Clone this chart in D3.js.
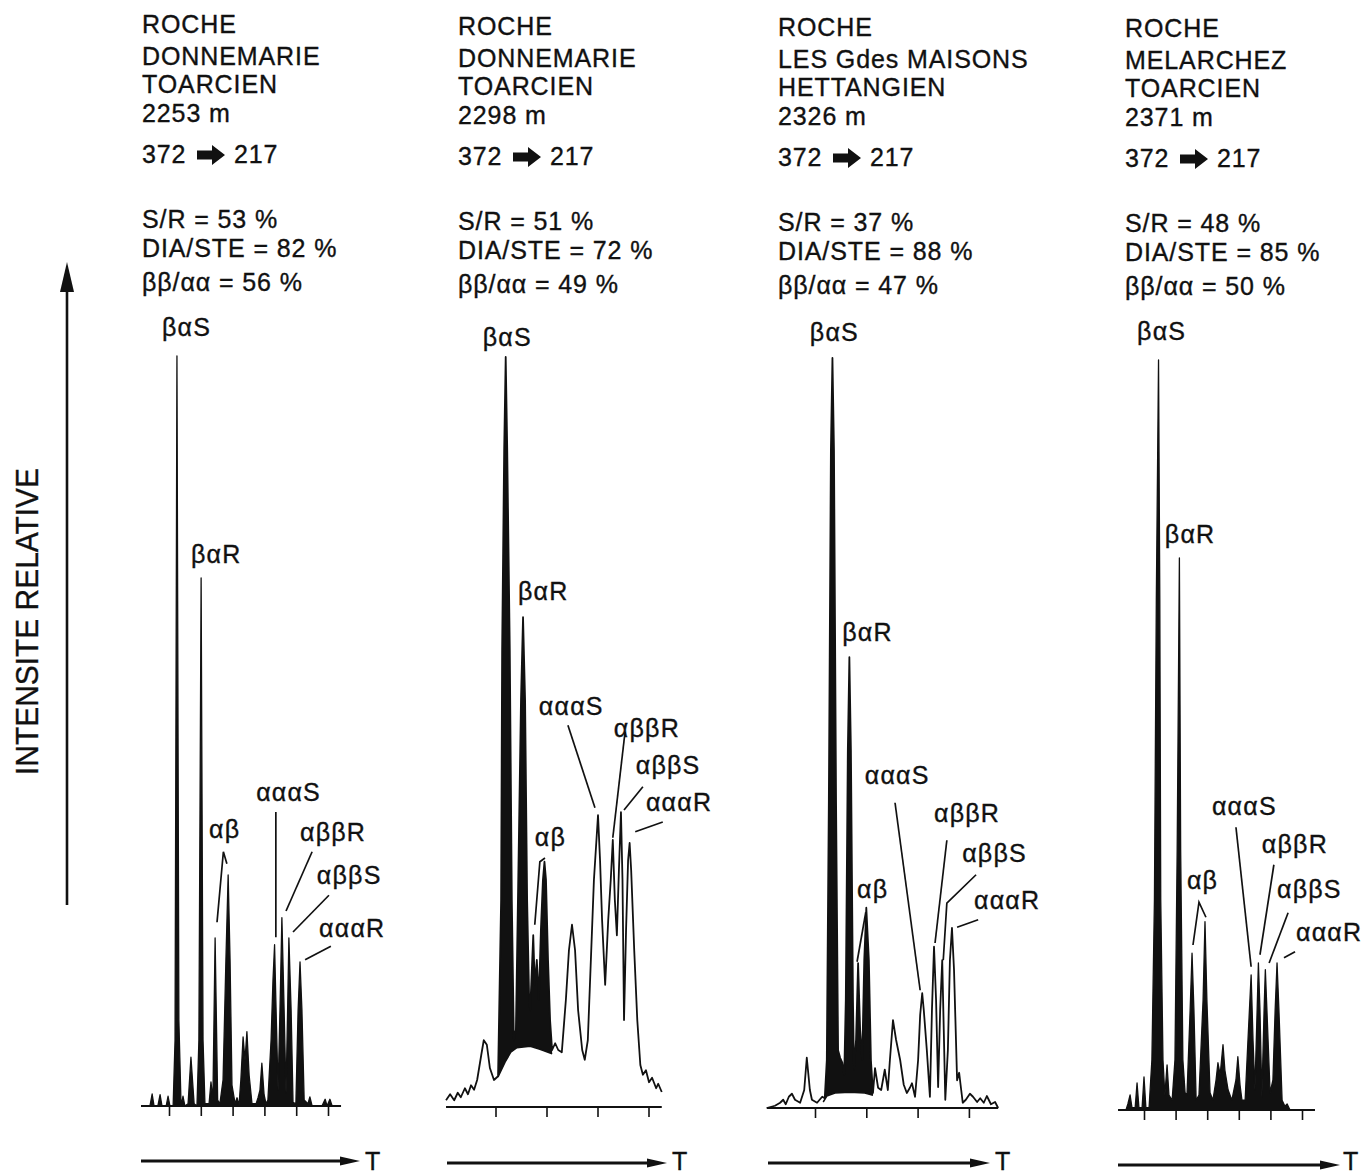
<!DOCTYPE html>
<html><head><meta charset="utf-8">
<script src="https://cdn.jsdelivr.net/npm/d3@7/dist/d3.min.js"></script>
<style>
body{margin:0;background:#fff}
text{font-family:"Liberation Sans",Arial,Helvetica,sans-serif;fill:#111;stroke:#111;stroke-width:0.35px}
</style>
</head><body>
<svg id="chart" width="1366" height="1174"></svg>
<script>
// ---------------- DATA ----------------
const rockTitle = "ROCHE";
const sites = ["DONNEMARIE", "DONNEMARIE", "LES Gdes MAISONS", "MELARCHEZ"];
const stages = ["TOARCIEN", "TOARCIEN", "HETTANGIEN", "TOARCIEN"];
const depths = [2253, 2298, 2326, 2371];
const transitionFrom = "372";
const transitionTo = "217";
const ratioSR = [53, 51, 37, 48];
const ratioDiaSte = [82, 72, 88, 85];
const ratioBbAa = [56, 49, 47, 50];
const peakNames = ["βαS", "βαR", "αβ", "αααS", "αββR", "αββS", "αααR"];
const yAxisTitle = "INTENSITE RELATIVE";
const xAxisTitle = "T";

// traces: [retention (tick units), relative intensity (% of βαS)]
const trace1 = [[-0.88,0],[-0.60,0],[-0.53,1.6],[-0.47,0],[-0.35,0],[-0.28,1.5],[-0.22,0],[-0.09,0],[-0.03,1.3],[0.03,0],[0.13,0],[0.19,8.8],[0.25,100],[0.31,11.5],[0.38,0],[0.44,1.3],[0.50,0],[0.60,0.3],[0.69,6.5],[0.79,0.3],[0.88,0],[0.94,8.8],[1.01,70.4],[1.07,8.8],[1.13,0.3],[1.26,0.3],[1.32,3.2],[1.38,0.8],[1.45,22.4],[1.53,0.8],[1.60,0.3],[1.70,3.5],[1.79,19.5],[1.86,30.8],[1.92,19.5],[1.98,2.8],[2.08,0.3],[2.14,1.1],[2.20,0],[2.26,3.5],[2.33,9.2],[2.39,6.1],[2.45,9.9],[2.52,4.1],[2.61,0.3],[2.74,0.3],[2.80,1.1],[2.86,2.1],[2.92,5.7],[2.99,1.5],[3.05,0.3],[3.11,0.8],[3.21,8.8],[3.27,16.8],[3.32,21.5],[3.36,14.1],[3.43,2.1],[3.49,12.8],[3.55,25.1],[3.62,12.8],[3.68,1.7],[3.73,12.8],[3.77,22.4],[3.84,12.8],[3.90,0.5],[3.99,0.3],[4.06,12.8],[4.12,19.2],[4.18,12.8],[4.25,0.8],[4.37,0.3],[4.43,1.2],[4.50,0],[4.81,0],[4.91,0.9],[4.97,0],[5.06,0.9],[5.13,0],[5.41,0]];

const trace2 = [[-0.97,0.9],[-0.89,1.7],[-0.81,0.9],[-0.74,1.9],[-0.68,1.3],[-0.60,2.5],[-0.54,1.7],[-0.48,2.9],[-0.42,2.3],[-0.36,3.6],[-0.28,6.9],[-0.23,8.9],[-0.17,8.3],[-0.11,5.2],[-0.03,3.6],[0.05,4.1],[0.11,27.6],[0.13,60.9],[0.17,87.6],[0.20,100],[0.23,87.6],[0.28,60.9],[0.32,27.6],[0.36,8.9],[0.40,10.3],[0.44,27.6],[0.50,54.3],[0.54,65.3],[0.58,54.3],[0.62,27.6],[0.66,14.3],[0.68,12.9],[0.74,22.9],[0.77,16.3],[0.81,19.6],[0.85,14.3],[0.89,23.6],[0.93,30.3],[0.96,32.7],[0.99,30.3],[1.03,19.6],[1.07,11.6],[1.11,7.6],[1.17,8.5],[1.23,7.6],[1.30,7.3],[1.38,14.3],[1.44,20.9],[1.50,24.3],[1.56,20.9],[1.62,12.9],[1.70,7.6],[1.75,6.3],[1.81,8.9],[1.87,19.6],[1.93,30.3],[2.01,38.9],[2.05,32.9],[2.09,24.9],[2.15,16.3],[2.21,24.9],[2.26,30.3],[2.30,35.6],[2.34,27.6],[2.38,22.9],[2.42,31.6],[2.46,39.3],[2.49,30.3],[2.52,11.6],[2.56,23.6],[2.60,32.9],[2.63,35.2],[2.66,31.6],[2.72,20.9],[2.78,11.6],[2.84,5.6],[2.89,4.3],[2.95,4.9],[3.01,3.3],[3.07,3.9],[3.15,2.5],[3.19,3.1],[3.26,2.0]];
const hump2 = [[0.05,4.0],[0.19,6.0],[0.30,7.3],[0.42,7.9],[0.68,8.1],[0.87,7.7],[1.11,7.1]];

const trace3 = [[-0.94,0],[-0.78,0.3],[-0.68,0.7],[-0.62,1.1],[-0.57,0.5],[-0.51,1.5],[-0.45,1.9],[-0.39,1.1],[-0.29,0.7],[-0.21,2.4],[-0.16,6.7],[-0.10,2.4],[-0.06,1.1],[0.04,0.7],[0.14,1.5],[0.19,1.3],[0.23,6.4],[0.27,41.1],[0.31,87.7],[0.34,100],[0.37,87.7],[0.41,41.1],[0.45,7.7],[0.49,6.7],[0.53,6.1],[0.57,4.4],[0.60,14.4],[0.64,47.7],[0.67,60.1],[0.70,47.7],[0.74,14.4],[0.76,5.1],[0.80,9.1],[0.84,19.3],[0.88,10.4],[0.92,6.4],[0.96,19.7],[1.00,26.7],[1.05,19.7],[1.09,6.4],[1.13,2.0],[1.17,5.3],[1.23,2.7],[1.29,2.4],[1.36,5.1],[1.42,2.4],[1.46,6.4],[1.52,11.7],[1.58,9.1],[1.66,6.4],[1.73,3.1],[1.79,2.0],[1.85,2.7],[1.89,3.3],[1.95,1.5],[2.01,6.4],[2.05,12.4],[2.09,15.3],[2.12,13.1],[2.18,7.7],[2.24,1.5],[2.28,13.1],[2.32,21.5],[2.36,14.4],[2.40,2.8],[2.44,13.1],[2.48,19.7],[2.51,10.4],[2.54,1.1],[2.59,7.7],[2.63,19.7],[2.67,24.0],[2.71,18.4],[2.77,3.7],[2.81,4.7],[2.85,2.4],[2.88,0.7],[2.94,1.1],[3.02,1.9],[3.08,1.5],[3.16,0.8],[3.22,1.3],[3.29,0.7],[3.35,1.6],[3.43,0.5],[3.51,0.8],[3.57,0]];
const hump3 = [[0.16,0.8],[0.23,1.6],[0.39,2.0],[0.68,2.1],[0.97,2.0],[1.13,1.7]];

const trace4 = [[-0.82,0],[-0.57,0],[-0.51,0.8],[-0.44,2.0],[-0.38,0.3],[-0.28,0.3],[-0.22,3.6],[-0.16,0.3],[-0.06,0.3],[0,4.4],[0.06,0.3],[0.16,0.3],[0.25,6.7],[0.33,28],[0.39,68],[0.46,100],[0.50,68],[0.53,28],[0.60,6.7],[0.66,2.0],[0.73,6.0],[0.79,2.0],[0.89,1.3],[0.98,6.7],[1.05,34.7],[1.12,73.6],[1.16,34.7],[1.23,6.7],[1.30,2.3],[1.36,2.0],[1.46,13.3],[1.52,20.9],[1.58,13.3],[1.65,1.3],[1.74,2.0],[1.87,14.7],[1.93,25.1],[1.99,14.7],[2.09,2.3],[2.18,1.3],[2.28,4.0],[2.34,6.3],[2.41,4.7],[2.50,8.7],[2.56,5.3],[2.66,2.7],[2.78,1.3],[2.91,4.0],[2.97,7.1],[3.04,3.3],[3.10,1.3],[3.20,1.3],[3.29,9.3],[3.39,18.0],[3.45,9.3],[3.51,2.7],[3.58,13.3],[3.62,19.6],[3.67,13.3],[3.73,1.7],[3.80,13.3],[3.84,18.7],[3.89,13.3],[3.99,2.3],[4.08,4.0],[4.15,13.3],[4.21,19.6],[4.27,13.3],[4.37,1.3],[4.46,0.5],[4.53,0.8],[4.62,0],[5.41,0]];

// label anchors (data units) in peakNames order
const labels1 = [[-0.22,102.7],[0.69,72.4],[1.26,35.7],[2.74,40.7],[4.12,35.3],[4.65,29.6],[4.72,22.5]];
const labels2 = [[-0.25,101.5],[0.44,67.6],[0.77,34.8],[0.85,52.3],[2.32,49.3],[2.75,44.4],[2.95,39.5]];
const labels3 = [[-0.10,102.3],[0.53,62.3],[0.82,28.0],[0.97,43.2],[2.32,38.1],[2.87,32.8],[3.10,26.5]];
const labels4 = [[-0.22,102.7],[0.66,75.6],[1.36,29.5],[2.15,39.3],[3.73,34.3],[4.21,28.3],[4.81,22.5]];

// leader lines (data units)
const leaders1 = [[[1.51,24.5],[1.71,33.9],[1.82,32.3]],[[3.36,39.2],[3.36,22.5]],[[4.50,33.9],[3.68,26.0]],[[5.03,28.1],[3.90,23.2]],[[5.09,21.3],[4.28,19.5]]];
const leaders2 = [[[0.77,24.3],[0.87,32.7],[0.97,33.2]],[[1.42,50.9],[1.95,39.9]],[[2.54,50.0],[2.30,35.9]],[[2.89,42.7],[2.52,39.6]],[[3.28,38.0],[2.74,36.7]]];
const leaders3 = [[[0.82,19.5],[0.99,26.1]],[[1.56,40.7],[2.05,15.7]],[[2.57,35.7],[2.34,22.0]],[[3.14,31.1],[2.57,27.3],[2.50,19.7]],[[3.18,25.1],[2.77,24.1]]];
const leaders4 = [[[1.55,22.0],[1.74,27.7],[1.96,25.7]],[[2.91,37.7],[3.39,19.1]],[[4.11,32.7],[3.67,20.7]],[[4.56,26.3],[3.96,19.6]],[[4.78,21.1],[4.43,20.3]]];

// ---------------- LAYOUT ----------------
const panels = [
  {trace:trace1, hump:null,  labels:labels1, leaders:leaders1, fillAll:true,  tick0:169,   step:31.8, nTicks:6, base:1106, textX:142,  shift:0, arrowX:[141,360],  arrowY:1161, tX:365},
  {trace:trace2, hump:hump2, labels:labels2, leaders:leaders2, fillAll:false, tick0:495.5, step:51,   nTicks:4, base:1107, textX:458,  shift:2, arrowX:[447,667],  arrowY:1163, tX:672},
  {trace:trace3, hump:hump3, labels:labels3, leaders:leaders3, fillAll:false, tick0:815,   step:51.3, nTicks:4, base:1108, textX:778,  shift:3, arrowX:[768,990],  arrowY:1163, tX:995},
  {trace:trace4, hump:null,  labels:labels4, leaders:leaders4, fillAll:true,  tick0:1144,  step:31.6, nTicks:6, base:1110, textX:1125, shift:4, arrowX:[1118,1340],arrowY:1165, tX:1343}
];
const headerBaselines = [33, 65, 93, 122, 163, 228, 257, 291];
const fontMain = 25, spacing = "0.9px";

const svg = d3.select("#chart");
svg.append("rect").attr("width",1366).attr("height",1174).attr("fill","#fff");

panels.forEach((p, i) => {
  const g = svg.append("g");
  const x = d3.scaleLinear().domain([0, p.nTicks-1]).range([p.tick0, p.tick0 + p.step*(p.nTicks-1)]);
  const y = d3.scaleLinear().domain([0, 100]).range([p.base, p.base - 750]);

  // header text
  const hb = headerBaselines.map(b => b + p.shift);
  const lines = [rockTitle, sites[i], stages[i], depths[i] + " m"];
  lines.forEach((s, k) => {
    g.append("text").attr("x", p.textX).attr("y", hb[k]).attr("font-size", fontMain)
      .attr("letter-spacing", spacing).text(s);
  });
  g.append("text").attr("x", p.textX).attr("y", hb[4]).attr("font-size", fontMain).attr("letter-spacing", spacing).text(transitionFrom);
  const ax = p.textX + 55, ay = hb[4] - 8;
  g.append("path").attr("fill","#111")
    .attr("d", `M${ax},${ay-4.5}L${ax+15},${ay-4.5}L${ax+15},${ay-10}L${ax+28},${ay}L${ax+15},${ay+10}L${ax+15},${ay+4.5}L${ax},${ay+4.5}Z`);
  g.append("text").attr("x", p.textX + 92).attr("y", hb[4]).attr("font-size", fontMain).attr("letter-spacing", spacing).text(transitionTo);
  g.append("text").attr("x", p.textX).attr("y", hb[5]).attr("font-size", fontMain).attr("letter-spacing", spacing).text(`S/R = ${ratioSR[i]} %`);
  g.append("text").attr("x", p.textX).attr("y", hb[6]).attr("font-size", fontMain).attr("letter-spacing", spacing).text(`DIA/STE = ${ratioDiaSte[i]} %`);
  g.append("text").attr("x", p.textX).attr("y", hb[7]).attr("font-size", fontMain).attr("letter-spacing", spacing).text(`ββ/αα = ${ratioBbAa[i]} %`);

  // chromatogram
  const line = d3.line().x(d => x(d[0])).y(d => y(d[1]));
  if (p.fillAll) {
    const area = d3.area().x(d => x(d[0])).y0(y(0)).y1(d => y(d[1]));
    g.append("path").datum(p.trace).attr("d", area).attr("fill", "#111");
  }
  if (p.hump) {
    const t0 = p.hump[0][0], t1 = p.hump[p.hump.length-1][0];
    const top = p.trace.filter(d => d[0] >= t0 && d[0] <= t1);
    const poly = top.concat(p.hump.slice().reverse());
    g.append("path").datum(poly).attr("d", line(poly) + "Z").attr("fill", "#111");
    g.append("path").datum(p.hump).attr("d", line).attr("fill","none").attr("stroke","#111").attr("stroke-width",1.5);
  }
  g.append("path").datum(p.trace).attr("d", line).attr("fill","none")
    .attr("stroke","#111").attr("stroke-width", p.fillAll ? 1.3 : 1.8).attr("stroke-linejoin","round");

  // baseline + ticks
  const tMin = p.trace[0][0], tMax = p.trace[p.trace.length-1][0];
  g.append("line").attr("x1", x(tMin)).attr("x2", x(tMax)).attr("y1", y(0)).attr("y2", y(0))
    .attr("stroke","#111").attr("stroke-width",2.2);
  const axisG = g.append("g").attr("transform", `translate(0,${y(0)})`)
    .call(d3.axisBottom(x).tickValues(d3.range(p.nTicks)).tickSize(10).tickSizeOuter(0).tickFormat(""));
  axisG.select(".domain").remove();
  axisG.selectAll(".tick line").attr("stroke","#111").attr("stroke-width",1.6);

  // peak labels
  p.labels.forEach((d, k) => {
    g.append("text").attr("x", x(d[0])).attr("y", y(d[1])).attr("font-size", fontMain)
      .attr("letter-spacing", "1.2px").text(peakNames[k]);
  });
  // leader lines
  p.leaders.forEach(pts => {
    g.append("path").datum(pts).attr("d", d3.line().x(d => x(d[0])).y(d => y(d[1])))
      .attr("fill","none").attr("stroke","#111").attr("stroke-width",1.7);
  });

  // time arrow
  const [x1, x2] = p.arrowX, yy = p.arrowY;
  g.append("line").attr("x1", x1).attr("x2", x2 - 12).attr("y1", yy).attr("y2", yy)
    .attr("stroke","#111").attr("stroke-width",3);
  g.append("path").attr("d", `M${x2},${yy}L${x2-20},${yy-4.5}L${x2-20},${yy+4.5}Z`).attr("fill","#111");
  g.append("text").attr("x", p.tX).attr("y", 1170).attr("font-size", 25).text(xAxisTitle);
});

// vertical intensity arrow
svg.append("line").attr("x1",67).attr("x2",67).attr("y1",905).attr("y2",284)
  .attr("stroke","#111").attr("stroke-width",2.6);
svg.append("path").attr("d","M67,262L60,292L74,292Z").attr("fill","#111");
svg.append("text").attr("transform","translate(38,775) rotate(-90)")
  .attr("font-size",32).attr("textLength",307).attr("lengthAdjust","spacingAndGlyphs").text(yAxisTitle);
</script>
</body></html>
